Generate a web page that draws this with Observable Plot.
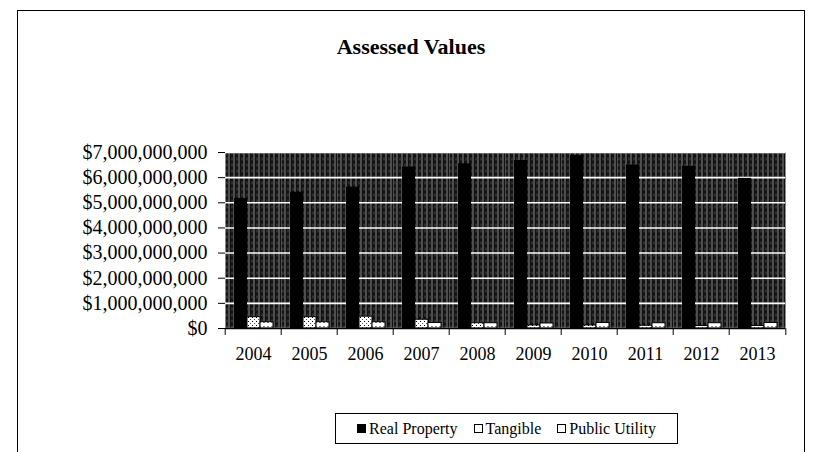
<!DOCTYPE html>
<html>
<head>
<meta charset="utf-8">
<script src="https://cdn.jsdelivr.net/npm/d3@7"></script>
<script src="https://cdn.jsdelivr.net/npm/@observablehq/plot@0.6"></script>
<style>
  html, body { margin: 0; padding: 0; background: #fff; }
  #wrap { position: relative; width: 821px; height: 452px; overflow: hidden; background: #fff; font-family: "Liberation Serif", "Times New Roman", serif; }
  #border { position: absolute; left: 17px; top: 10px; width: 788px; height: 470px; border: 1.5px solid #000; box-sizing: border-box; }
  #title { position: absolute; left: 17px; top: 34px; width: 788px; text-align: center; font-weight: bold; font-size: 22px; color: #000; }
  #chart { position: absolute; left: 0; top: 0; }
  #legend { position: absolute; left: 335px; top: 413px; width: 343px; height: 31px; border: 1.5px solid #000; box-sizing: border-box; display: flex; align-items: center; justify-content: center; gap: 16px; font-size: 16px; color: #000; background: #fff; }
  .item { display: flex; align-items: center; gap: 3px; }
  .sw { width: 9px; height: 9px; border: 1px solid #000; box-sizing: border-box; }
</style>
</head>
<body>
<div id="wrap">
  <div id="border"></div>
  <div id="title">Assessed Values</div>
  <div id="chart"></div>
  <div id="legend"></div>
</div>
<script>
const years = ["2004","2005","2006","2007","2008","2009","2010","2011","2012","2013"];
const seriesNames = ["Real Property", "Tangible", "Public Utility"];
const realProperty = [5.17e9, 5.42e9, 5.62e9, 6.42e9, 6.55e9, 6.68e9, 6.88e9, 6.50e9, 6.45e9, 5.97e9];
const tangible     = [0.45e9, 0.45e9, 0.47e9, 0.35e9, 0.21e9, 0.12e9, 0.12e9, 0.11e9, 0.10e9, 0.10e9];
const publicUtility= [0.25e9, 0.25e9, 0.25e9, 0.22e9, 0.21e9, 0.20e9, 0.22e9, 0.21e9, 0.21e9, 0.22e9];
const yTicks = [0, 1e9, 2e9, 3e9, 4e9, 5e9, 6e9, 7e9];

const seriesValues = [realProperty, tangible, publicUtility];
const data = years.flatMap((y, i) => seriesNames.map((s, j) => ({year: y, series: s, value: seriesValues[j][i]})));

const fills = {"Real Property": "#000", "Tangible": "url(#pat-tan)", "Public Utility": "url(#pat-pu)"};
const fmt = d => "$" + d3.format(",")(d);
const halfBand = (821 - 222 - 33) / years.length / 2;

const chart = Plot.plot({
  width: 821,
  height: 452,
  marginLeft: 222,
  marginRight: 33,
  marginTop: 152,
  marginBottom: 124,
  style: {fontFamily: "Liberation Serif, serif", fontSize: "18px", background: "transparent", color: "#000", overflow: "visible"},
  fx: {domain: years, padding: 0, label: null, axis: null},
  x: {domain: seriesNames, paddingInner: 0, paddingOuter: 0.6, axis: null},
  y: {domain: [0, 7e9], label: null},
  marks: [
    Plot.frame({fill: "url(#tex)", stroke: null}),
    Plot.gridY(yTicks, {stroke: "#fff", strokeOpacity: 1, strokeWidth: 1.6}),
    ...seriesNames.map(s => Plot.barY(data.filter(d => d.series === s), {
      fx: "year", x: "series", y: "value",
      fill: fills[s], stroke: s === "Real Property" ? null : "#000", strokeWidth: 1
    })),
    Plot.ruleY([0], {stroke: "#000", strokeWidth: 1.5}),
    Plot.axisY(yTicks, {tickFormat: fmt, tickSize: 7, tickPadding: 11, fontSize: 20, label: null}),
    Plot.axisFx({anchor: "bottom", tickSize: 0, tickPadding: 19, label: null, fontSize: 18}),
    Plot.axisFx({anchor: "bottom", tickSize: 7, tickFormat: () => "", dx: -halfBand, label: null}),
    Plot.axisFx({anchor: "bottom", ticks: [years[years.length - 1]], tickSize: 7, tickFormat: () => "", dx: halfBand, label: null})
  ]
});

// patterns for textured fills
const defs = `<defs>
  <pattern id="tex" width="5" height="6" patternUnits="userSpaceOnUse">
    <rect width="5" height="6" fill="#111"/>
    <rect x="0" y="0" width="1" height="6" fill="#8a8a8a"/>
    <rect x="3" y="1" width="1" height="3" fill="#4a4a4a"/>
  </pattern>
  <pattern id="pat-tan" width="4" height="4" patternUnits="userSpaceOnUse">
    <rect width="4" height="4" fill="#fff"/>
    <rect x="1" y="1" width="1" height="1" fill="#000"/>
    <rect x="3" y="3" width="1" height="1" fill="#555"/>
  </pattern>
  <pattern id="pat-pu" width="4" height="4" patternUnits="userSpaceOnUse">
    <rect width="4" height="4" fill="#fff"/>
    <rect x="0" y="2" width="2" height="1" fill="#888"/>
  </pattern>
</defs>`;
chart.insertAdjacentHTML("afterbegin", defs);
document.getElementById("chart").appendChild(chart);

// legend
const legend = d3.select("#legend");
const swatchStyles = {
  "Real Property": "background:#000",
  "Tangible": "background:#fff",
  "Public Utility": "background:#fff"
};
seriesNames.forEach(s => {
  const it = legend.append("div").attr("class", "item");
  it.append("div").attr("class", "sw").attr("style", swatchStyles[s]);
  it.append("span").text(s);
});
</script>
</body>
</html>
